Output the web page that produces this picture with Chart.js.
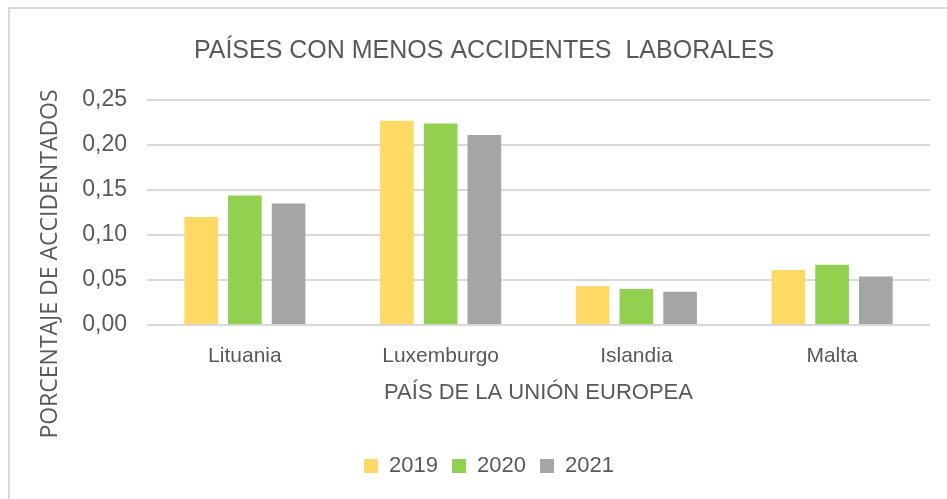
<!DOCTYPE html>
<html>
<head>
<meta charset="utf-8">
<script src="https://cdn.jsdelivr.net/npm/chart.js@4.4.1/dist/chart.umd.min.js"></script>
<style>
  html, body { margin: 0; padding: 0; background: #fff; }
  #wrap { width: 947px; height: 499px; position: relative; }
</style>
</head>
<body>
<div id="wrap"><canvas id="c"></canvas></div>
<script>
// datos
var paises = ["Lituania", "Luxemburgo", "Islandia", "Malta"];
var anios = ["2019", "2020", "2021"];
var v2019 = [0.120, 0.227, 0.043, 0.061];
var v2020 = [0.144, 0.224, 0.040, 0.067];
var v2021 = [0.135, 0.211, 0.037, 0.054];
var colores = ["#FFD966", "#92D050", "#A5A5A5"];
var tituloY = "PORCENTAJE DE ACCIDENTADOS";

var fuente = "'Liberation Sans', Arial, sans-serif";
var gris = "#595959";

// marco gris del gráfico, título del eje Y (centrado como en Excel)
// y pequeño ajuste de título/leyenda
var marco = {
	id: "marco",
	afterUpdate: function(chart) {
		chart.titleBlock.left += 9;
		chart.titleBlock.right += 9;
		chart.legend.left += 14;
		chart.legend.right += 14;
	},
	beforeDraw: function(chart) {
		var ctx = chart.ctx;
		ctx.save();
		ctx.strokeStyle = "#D9D9D9";
		ctx.lineWidth = 2;
		ctx.beginPath();
		ctx.moveTo(947, 8);
		ctx.lineTo(9, 8);
		ctx.lineTo(9, 499);
		ctx.stroke();
		ctx.restore();
	},
	afterDraw: function(chart) {
		var ctx = chart.ctx;
		ctx.save();
		ctx.translate(50, 264);
		ctx.rotate(-Math.PI / 2);
		ctx.fillStyle = gris;
		ctx.font = "23px 'Open Sans', sans-serif";
		ctx.textAlign = "center";
		ctx.textBaseline = "middle";
		ctx.fillText(tituloY, 0, 0);
		ctx.restore();
	}
};

var series = [v2019, v2020, v2021].map(function(d, i) {
	return {
		label: anios[i],
		data: d,
		backgroundColor: colores[i],
		borderWidth: 0,
		categoryPercentage: 0.67,
		barPercentage: 0.77
	};
});

new Chart(document.getElementById("c"), {
	type: "bar",
	data: { labels: paises, datasets: series },
	options: {
		responsive: true,
		maintainAspectRatio: false,
		animation: false,
		layout: { padding: { left: 20, right: 17, top: 18, bottom: 12 } },
		plugins: {
			title: {
				display: true,
				text: "PAÍSES CON MENOS ACCIDENTES  LABORALES",
				color: gris,
				font: { family: fuente, size: 25, weight: "normal" },
				padding: { top: 18, bottom: 34 }
			},
			legend: {
				position: "bottom",
				labels: {
					color: gris,
					font: { family: fuente, size: 22 },
					boxWidth: 14,
					boxHeight: 14,
					padding: 14
				}
			},
			tooltip: { enabled: false }
		},
		scales: {
			y: {
				min: 0,
				max: 0.25,
				afterFit: function(s) { s.width = 127; },
				ticks: {
					stepSize: 0.05,
					color: gris,
					padding: 20,
					font: { family: fuente, size: 23 },
					callback: function(v) { return v.toFixed(2).replace(".", ","); }
				},
				grid: { color: "#D9D9D9", lineWidth: 2, drawTicks: false },
				border: { display: false }
			},
			x: {
				afterFit: function(s) { s.height = 116; },
				ticks: {
					color: gris,
					padding: 19,
					font: { family: fuente, size: 21 }
				},
				grid: { display: false, drawTicks: false },
				border: { display: false },
				title: {
					display: true,
					text: "PAÍS DE LA UNIÓN EUROPEA",
					color: gris,
					font: { family: fuente, size: 22 },
					padding: { top: 0, bottom: 35 }
				}
			}
		}
	},
	plugins: [marco]
});
</script>
</body>
</html>
